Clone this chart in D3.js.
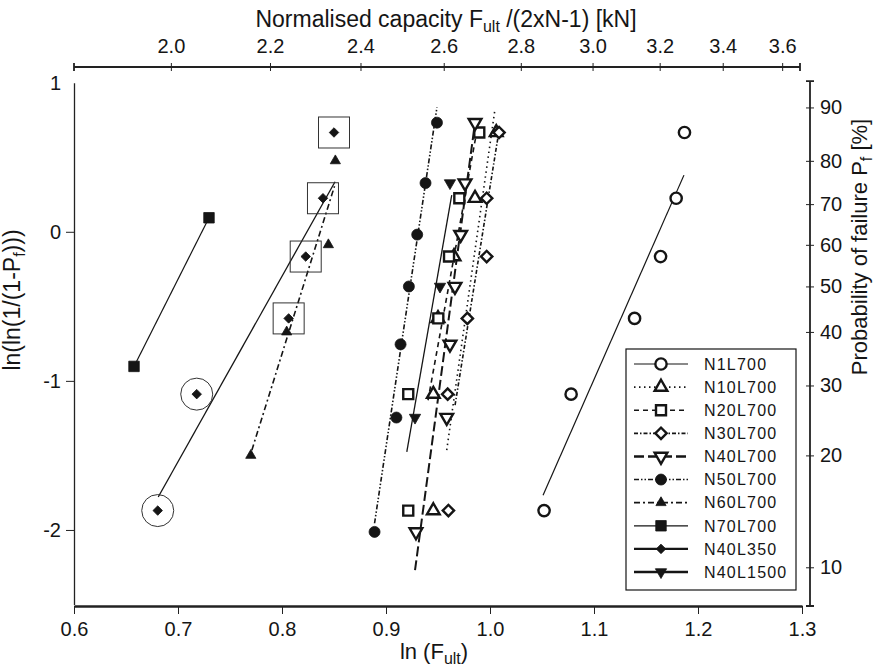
<!DOCTYPE html>
<html>
<head>
<meta charset="utf-8">
<script src="https://cdn.jsdelivr.net/npm/d3@7"></script>
<style>
  body { margin: 0; background: #fff; }
  svg { font-family: "Liberation Sans", Arial, sans-serif; }
</style>
</head>
<body>
<svg id="chart" width="876" height="669"></svg>
<script>
// ---- data ----
const seriesNames = ['N1L700', 'N10L700', 'N20L700', 'N30L700', 'N40L700',
                     'N50L700', 'N60L700', 'N70L700', 'N40L350', 'N40L1500'];

// ln(ln(1/(1-Pf))) levels of the plotted ranks
const rank2 = [-0.903, 0.094];
const rank3 = [-1.246, -0.367, 0.327];
const rank4 = [-1.500, -0.672, -0.087, 0.476];
const rank6 = [-1.870, -1.089, -0.581, -0.166, 0.225, 0.666];
const rank7 = [-2.013, -1.246, -0.755, -0.367, -0.019, 0.327, 0.732];

// ln(F_ult) of each specimen
const n1X    = [1.052, 1.078, 1.139, 1.164, 1.179, 1.187];
const n10X   = [0.9455, 0.9455, 0.950, 0.9654, 0.9856, 1.006];
const n20X   = [0.9214, 0.9214, 0.9503, 0.9606, 0.9705, 0.9897];
const n30X   = [0.960, 0.9593, 0.9782, 0.9968, 0.9968, 1.0087];
const n40X   = [0.9288, 0.9584, 0.9615, 0.9663, 0.9718, 0.976, 0.9856];
const n50X   = [0.889, 0.910, 0.914, 0.922, 0.930, 0.938, 0.949];
const n60X   = [0.770, 0.8045, 0.8446, 0.8513];
const n70X   = [0.6577, 0.7298];
const n350X  = [0.6805, 0.718, 0.8064, 0.8228, 0.8394, 0.850];
const n1500X = [0.9279, 0.9519, 0.9615];

// fitted lines [ln F, ln ln] end points
const n1Fit    = [[1.051, -1.767], [1.1865, 0.380]];
const n10Fit   = [[0.9584, -1.464], [1.0048, 0.823]];
const n20Fit   = [[0.9404, -1.13], [0.9875, 0.682]];
const n30Fit   = [[0.9664, -1.163], [1.008, 0.649]];
const n40Fit   = [[0.9279, -2.27], [0.9846, 0.682]];
const n50Fit   = [[0.889, -1.955], [0.949, 0.835]];
const n60Fit   = [[0.771, -1.465], [0.8505, 0.306]];
const n70Fit   = [[0.6577, -0.903], [0.7298, 0.094]];
const n350Fit  = [[0.681, -1.779], [0.851, 0.336]];
const n1500Fit = [[0.920, -1.476], [0.9632, 0.246]];

// highlighted specimens of N40L350
const circled = [0, 1];
const boxed = [2, 3, 4, 5];

// axis ticks
const bottomTicks = [0.6, 0.7, 0.8, 0.9, 1.0, 1.1, 1.2, 1.3];
const leftTicks = [-2, -1, 0, 1];
const topTicks = [2.0, 2.2, 2.4, 2.6, 2.8, 3.0, 3.2, 3.4, 3.6];
const probTicks = [10, 20, 30, 40, 50, 60, 70, 80, 90];

// ---- build table ----
const xsList = [n1X, n10X, n20X, n30X, n40X, n50X, n60X, n70X, n350X, n1500X];
const ysList = [rank6, rank6, rank6, rank6, rank7, rank7, rank4, rank2, rank6, rank3];
const fitList = [n1Fit, n10Fit, n20Fit, n30Fit, n40Fit, n50Fit, n60Fit, n70Fit, n350Fit, n1500Fit];

const styles = [
  { sym: d3.symbolCircle,   size: 100, fill: false, rot: 0,   dash: null,              w: 1.2 },
  { sym: d3.symbolTriangle, size: 70,  fill: false, rot: 0,   dash: '1.5,3.5',         w: 1.6 },
  { sym: d3.symbolSquare,   size: 100, fill: false, rot: 0,   dash: '5,4',             w: 1.6 },
  { sym: d3.symbolSquare,   size: 64,  fill: false, rot: 45,  dash: '4,2,1.5,2',       w: 1.6 },
  { sym: d3.symbolTriangle, size: 70,  fill: false, rot: 180, dash: '10,4',            w: 2 },
  { sym: d3.symbolCircle,   size: 95,  fill: true,  rot: 0,   dash: '5,2,1.5,2,1.5,2', w: 1.6 },
  { sym: d3.symbolTriangle, size: 45,  fill: true,  rot: 0,   dash: '6,3,2,3',         w: 1.6 },
  { sym: d3.symbolSquare,   size: 110, fill: true,  rot: 0,   dash: null,              w: 1.2 },
  { sym: d3.symbolSquare,   size: 45,  fill: true,  rot: 45,  dash: null,              w: 1.3 },
  { sym: d3.symbolTriangle, size: 55,  fill: true,  rot: 180, dash: null,              w: 1.3 }
];
const legendW = [1.2, 1.6, 1.6, 1.6, 2.4, 1.6, 1.6, 1.2, 2.4, 2.4];

const series = seriesNames.map((name, i) => ({
  name,
  pts: xsList[i].map((v, j) => [v, ysList[i][j]]),
  fit: fitList[i],
  st: styles[i]
}));

// ---- layout ----
const svg = d3.select('#chart');
const ink = '#151515';

const x = d3.scaleLinear().domain([0.6, 1.3]).range([74, 802]);
const y = d3.scaleLinear().domain([-2.5, 1]).range([604.5, 82.7]);
const xTop = d3.scaleLog().domain([Math.exp(0.6), Math.exp(1.3)]).range([74, 802]);
const probToL = p => Math.log(-Math.log(1 - p / 100));

const line = d3.line().x(d => x(d[0])).y(d => y(d[1]));
const symbolPath = st => d3.symbol().type(st.sym).size(st.size)();

// fitted lines
svg.append('g').selectAll('path')
  .data(series)
  .join('path')
  .attr('d', d => line(d.fit))
  .attr('fill', 'none')
  .attr('stroke', ink)
  .attr('stroke-width', d => d.st.w)
  .attr('stroke-dasharray', d => d.st.dash);

// highlight marks around N40L350
const n350 = series[8].pts;
svg.append('g').selectAll('circle')
  .data(circled.map(i => n350[i]))
  .join('circle')
  .attr('cx', d => x(d[0])).attr('cy', d => y(d[1])).attr('r', 16)
  .attr('fill', 'none').attr('stroke', '#333').attr('stroke-width', 1);
svg.append('g').selectAll('rect')
  .data(boxed.map(i => n350[i]))
  .join('rect')
  .attr('x', d => x(d[0]) - 15.5).attr('y', d => y(d[1]) - 15.5)
  .attr('width', 31).attr('height', 31)
  .attr('fill', 'none').attr('stroke', '#333').attr('stroke-width', 1);

// markers
series.forEach(s => {
  svg.append('g').selectAll('path')
    .data(s.pts)
    .join('path')
    .attr('d', symbolPath(s.st))
    .attr('transform', d => `translate(${x(d[0])},${y(d[1])}) rotate(${s.st.rot})`)
    .attr('fill', s.st.fill ? ink : '#fff')
    .attr('stroke', ink)
    .attr('stroke-width', s.st.fill ? 0.8 : 2.4);
});

// ---- axes ----
const tickFont = g => g.selectAll('text').attr('font-size', 20).attr('fill', ink)
  .attr('font-family', '"Liberation Sans", Arial, sans-serif');

const gBottom = svg.append('g')
  .attr('transform', 'translate(0,606)')
  .call(d3.axisBottom(x).tickValues(bottomTicks).tickSize(8).tickSizeOuter(0)
    .tickPadding(8).tickFormat(d3.format('.1f')));
gBottom.select('.domain').attr('stroke', '#222').attr('stroke-width', 2.6);
gBottom.selectAll('.tick line').attr('stroke', '#222');
tickFont(gBottom);

const gLeft = svg.append('g')
  .attr('transform', 'translate(74,0)')
  .call(d3.axisLeft(y).tickValues(leftTicks).tickSize(8).tickSizeOuter(0)
    .tickPadding(5).tickFormat(d => String(d)));
gLeft.select('.domain').attr('stroke', '#222').attr('stroke-width', 1.3);
gLeft.selectAll('.tick line').attr('stroke', '#222').filter(d => d === 1).remove();
tickFont(gLeft);

const gTop = svg.append('g')
  .attr('transform', 'translate(0,67)')
  .call(d3.axisTop(xTop).tickValues(topTicks).tickSize(4).tickSizeOuter(4)
    .tickPadding(10).tickFormat(d3.format('.1f')));
gTop.select('.domain').attr('stroke', '#222').attr('stroke-width', 1.8)
  .attr('d', `M${xTop.range()[0]},-4V4V0H${xTop.range()[1] - 2}V-4V4`);
gTop.selectAll('.tick line').attr('stroke', '#222').attr('y1', 4);
tickFont(gTop);

const gRight = svg.append('g')
  .attr('transform', 'translate(810,0)')
  .call(d3.axisRight(y).tickValues(probTicks.map(probToL)).tickSize(4)
    .tickPadding(6).tickFormat((d, i) => probTicks[i]));
gRight.select('.domain').attr('stroke', '#222').attr('stroke-width', 1.8)
  .attr('d', `M-4,${y.range()[1] - 1.5}H4H0V${y.range()[0] + 1.5}H-4H4`);
gRight.selectAll('.tick line').attr('stroke', '#222').attr('x1', -4);
tickFont(gRight);

// ---- axis titles ----
const title = (sel, parts) => {
  parts.forEach(p => {
    sel.append('tspan')
      .attr('font-size', p.sub ? 16 : null)
      .attr('dy', p.sub ? 5 : (p.after ? -5 : null))
      .text(p.t);
  });
};

const tTop = svg.append('text').attr('x', 446).attr('y', 27)
  .attr('text-anchor', 'middle').attr('font-size', 23).attr('fill', ink);
title(tTop, [{ t: 'Normalised capacity F' }, { t: 'ult', sub: true }, { t: ' /(2xN-1) [kN]', after: true }]);

const tBottom = svg.append('text').attr('x', 434).attr('y', 659)
  .attr('text-anchor', 'middle').attr('font-size', 22).attr('fill', ink);
title(tBottom, [{ t: 'ln (F' }, { t: 'ult', sub: true }, { t: ')', after: true }]);

const tLeft = svg.append('text')
  .attr('transform', 'translate(20,300) rotate(-90)')
  .attr('text-anchor', 'middle').attr('font-size', 23).attr('fill', ink);
title(tLeft, [{ t: 'ln(ln(1/(1-P' }, { t: 'f', sub: true }, { t: ')))', after: true }]);

const tRight = svg.append('text')
  .attr('transform', 'translate(867,247) rotate(-90)')
  .attr('text-anchor', 'middle').attr('font-size', 22).attr('fill', ink);
title(tRight, [{ t: 'Probability of failure P' }, { t: 'f', sub: true }, { t: ' [%]', after: true }]);

// ---- legend ----
const legend = svg.append('g');
legend.append('rect')
  .attr('x', 626).attr('y', 349).attr('width', 170).attr('height', 241)
  .attr('fill', '#fff').attr('stroke', ink).attr('stroke-width', 1.2);

const rowY = d3.scalePoint().domain(seriesNames).range([364, 572]);
const rows = legend.selectAll('g.row')
  .data(series)
  .join('g')
  .attr('class', 'row')
  .attr('transform', d => `translate(0,${rowY(d.name)})`);
rows.append('line')
  .attr('x1', 634).attr('x2', 688)
  .attr('stroke', ink)
  .attr('stroke-width', (d, i) => legendW[i])
  .attr('stroke-dasharray', d => d.st.dash);
rows.append('path')
  .attr('d', d => symbolPath(d.st))
  .attr('transform', d => `translate(661,0) rotate(${d.st.rot})`)
  .attr('fill', d => d.st.fill ? ink : '#fff')
  .attr('stroke', ink)
  .attr('stroke-width', d => d.st.fill ? 0.8 : 2.4);
rows.append('text')
  .attr('x', 704).attr('dy', '0.36em')
  .attr('font-size', 16).attr('letter-spacing', 1.2).attr('fill', ink)
  .text(d => d.name);
</script>
</body>
</html>
